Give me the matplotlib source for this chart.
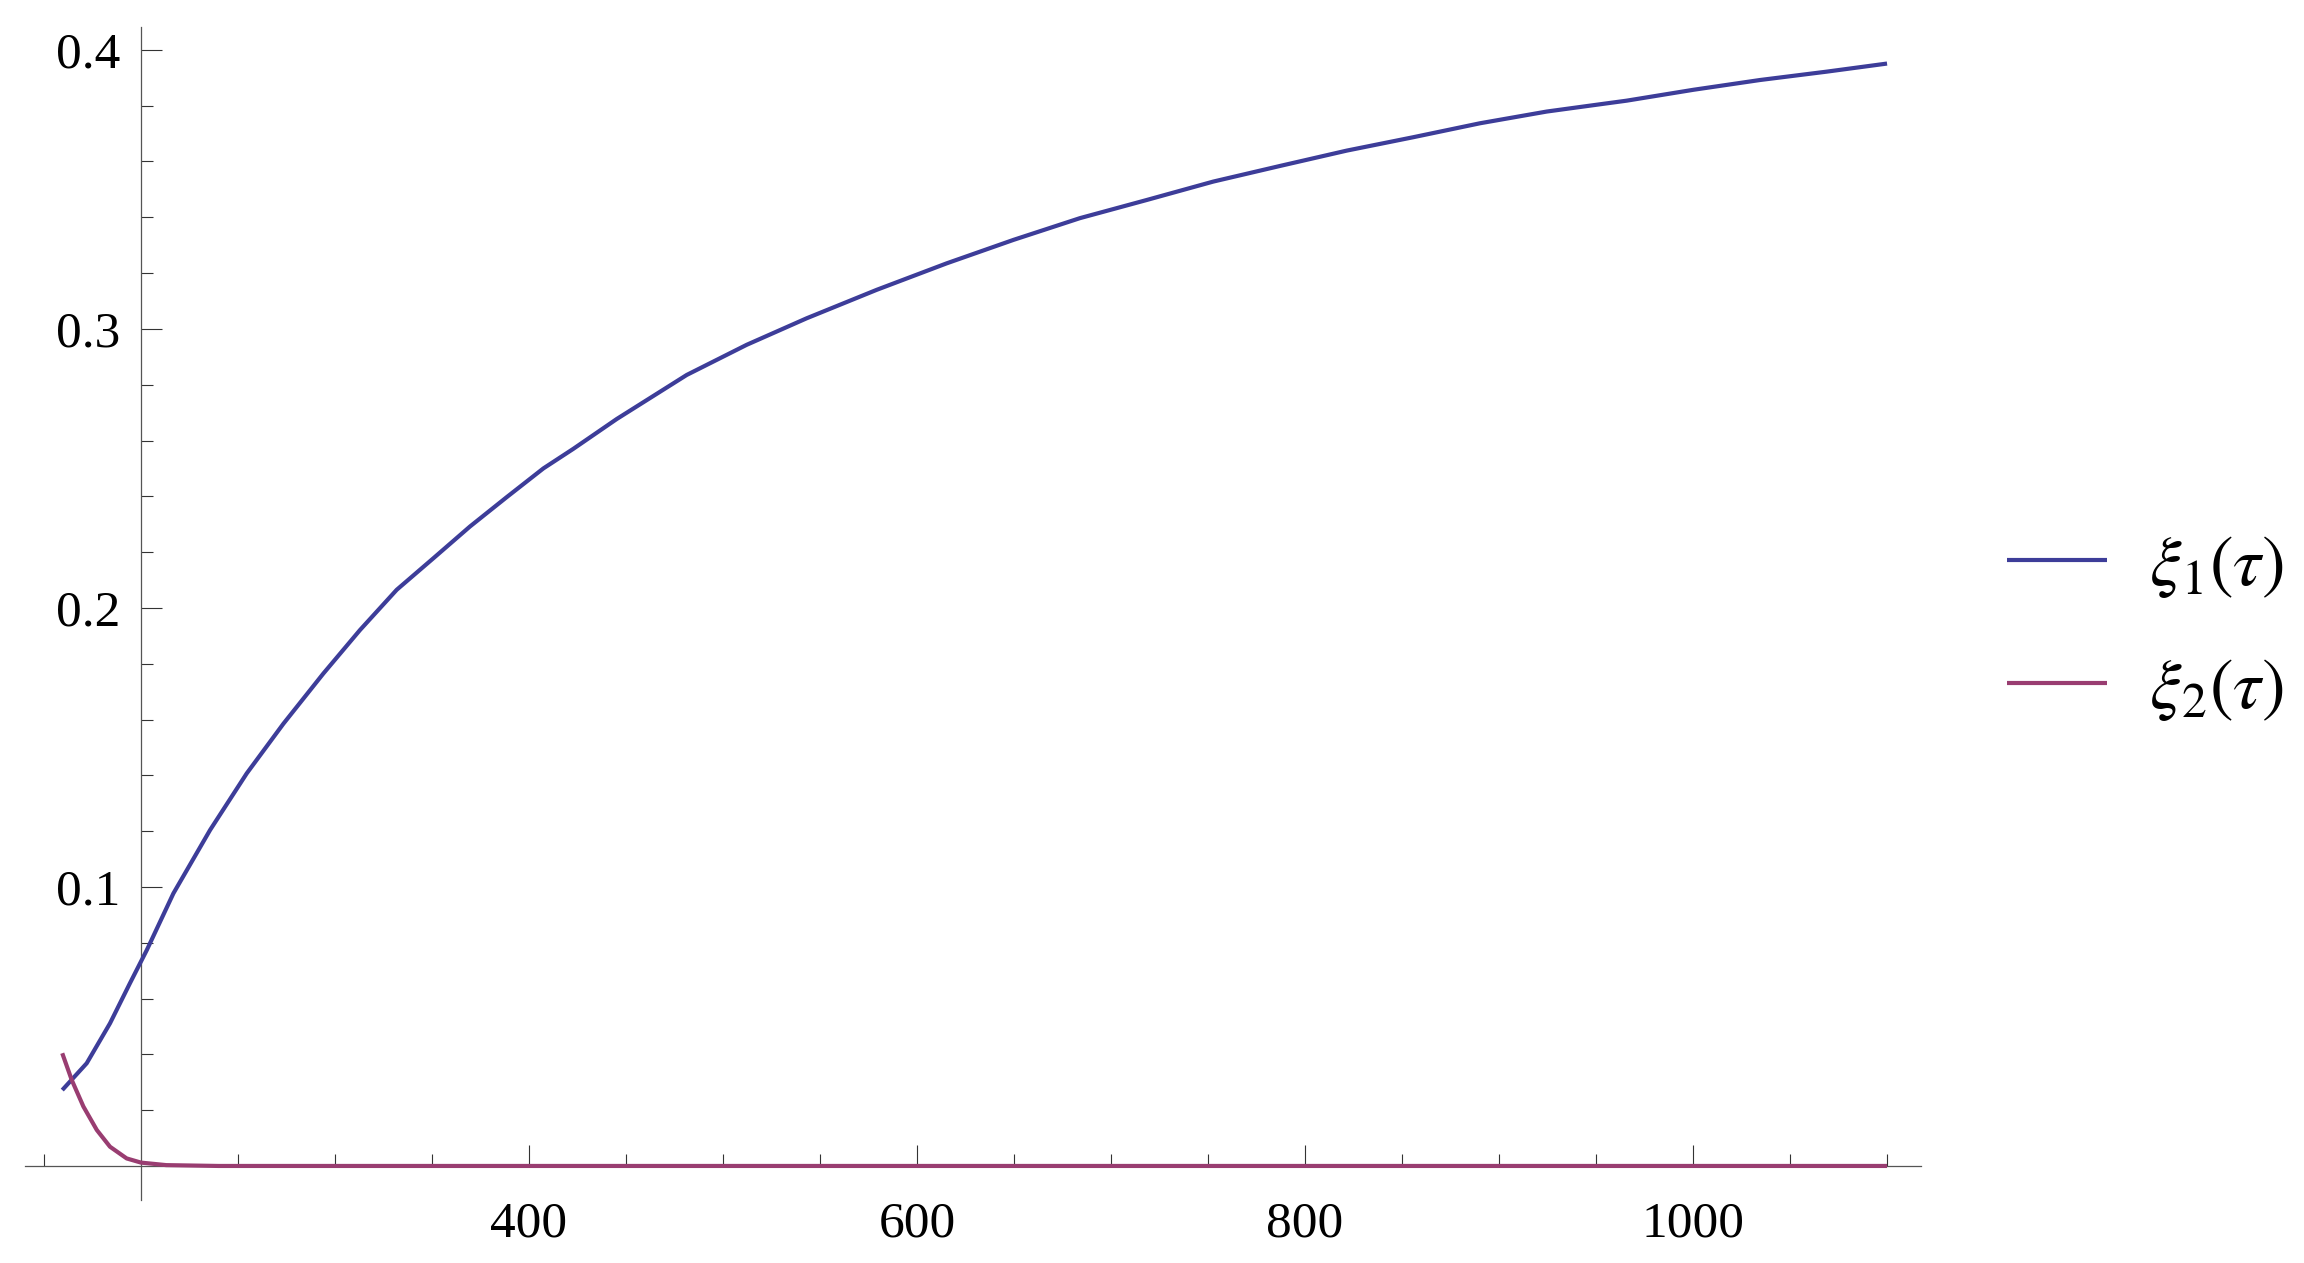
import numpy as np
import matplotlib
matplotlib.use('Agg')
import matplotlib.pyplot as plt

# values
tau1 = [159.4, 172, 184, 194.3, 203, 216.7, 235.6, 254.5, 273.4, 294, 312.9, 331.8,
        350.7, 369.6, 388.5, 407.4, 422.8, 445.2, 481.3, 512.2, 543.1, 579.2, 615.3,
        649.7, 684, 718.4, 752.7, 787.1, 821.5, 855.8, 890.2, 924.6, 952, 965.8,
        1000.2, 1034.5, 1068.9, 1100]
xi1 = [0.0272, 0.0368, 0.0511, 0.0655, 0.0774, 0.0977, 0.1204, 0.1407, 0.1585, 0.1765,
       0.1921, 0.2065, 0.2178, 0.2292, 0.2397, 0.2500, 0.2570, 0.2677, 0.2835, 0.2943,
       0.3038, 0.3140, 0.3235, 0.3319, 0.3397, 0.3462, 0.3528, 0.3584, 0.3639, 0.3687,
       0.3737, 0.3779, 0.3805, 0.3818, 0.3857, 0.3892, 0.3922, 0.3951]

tau2 = [159.4, 164.3, 170.3, 177.2, 184, 192.6, 200, 213, 240, 300, 500, 800, 1100]
xi2 = [0.0404, 0.0308, 0.0213, 0.0129, 0.0069, 0.0027, 0.0012, 0.0003, 0.0, 0.0, 0.0, 0.0, 0.0]

ytick_major = [0.1, 0.2, 0.3, 0.4]
xtick_major = [400, 600, 800, 1000]

W, H = 2304, 1263
fig = plt.figure(figsize=(W/100, H/100), dpi=100)
ax = fig.add_axes([25/W, (H-1200)/H, (1921-25)/W, (1200-27)/H])

ax.plot(tau1, xi1, color='#3d3d99', lw=3.0, label=r'$\xi_1(\tau)$', zorder=3,
        solid_capstyle='butt', solid_joinstyle='round')
ax.plot(tau2, xi2, color='#993d71', lw=3.0, label=r'$\xi_2(\tau)$', zorder=4,
        solid_capstyle='butt', solid_joinstyle='round')

ax.set_xlim(140.2, 1117.5)
ax.set_ylim(-0.0122, 0.4082)

for s in ['top', 'right']:
    ax.spines[s].set_visible(False)
ax.spines['left'].set_position(('data', 200))
ax.spines['bottom'].set_position(('data', 0))
for s in ['left', 'bottom']:
    ax.spines[s].set_color('#555555')
    ax.spines[s].set_linewidth(0.9)

ax.set_yticks(ytick_major)
ax.set_yticks([v/100 for v in range(2, 41, 2) if v % 10 != 0], minor=True)
ax.set_yticklabels(['%.1f' % v for v in ytick_major])
ax.set_xticks(xtick_major)
ax.set_xticks([v for v in range(150, 1101, 50) if v not in xtick_major and v != 200], minor=True)
ax.set_xticklabels([str(v) for v in xtick_major])

ax.tick_params(which='both', direction='in', color='#333333', width=0.8,
               labelsize=37, labelfontfamily='Liberation Serif')
ax.tick_params(which='major', length=15)
ax.tick_params(which='minor', length=8.6)
ax.tick_params(axis='y', which='major', pad=15)
ax.tick_params(axis='x', which='major', pad=25)

plt.rcParams['mathtext.fontset'] = 'stix'
ax.legend(loc='center left', bbox_to_anchor=(2007/W, (H-627)/H), bbox_transform=fig.transFigure,
          frameon=False, fontsize=51, handlelength=1.41, handletextpad=0.6,
          labelspacing=0.76, borderpad=0, borderaxespad=0)

fig.savefig('out.png', dpi=100)
